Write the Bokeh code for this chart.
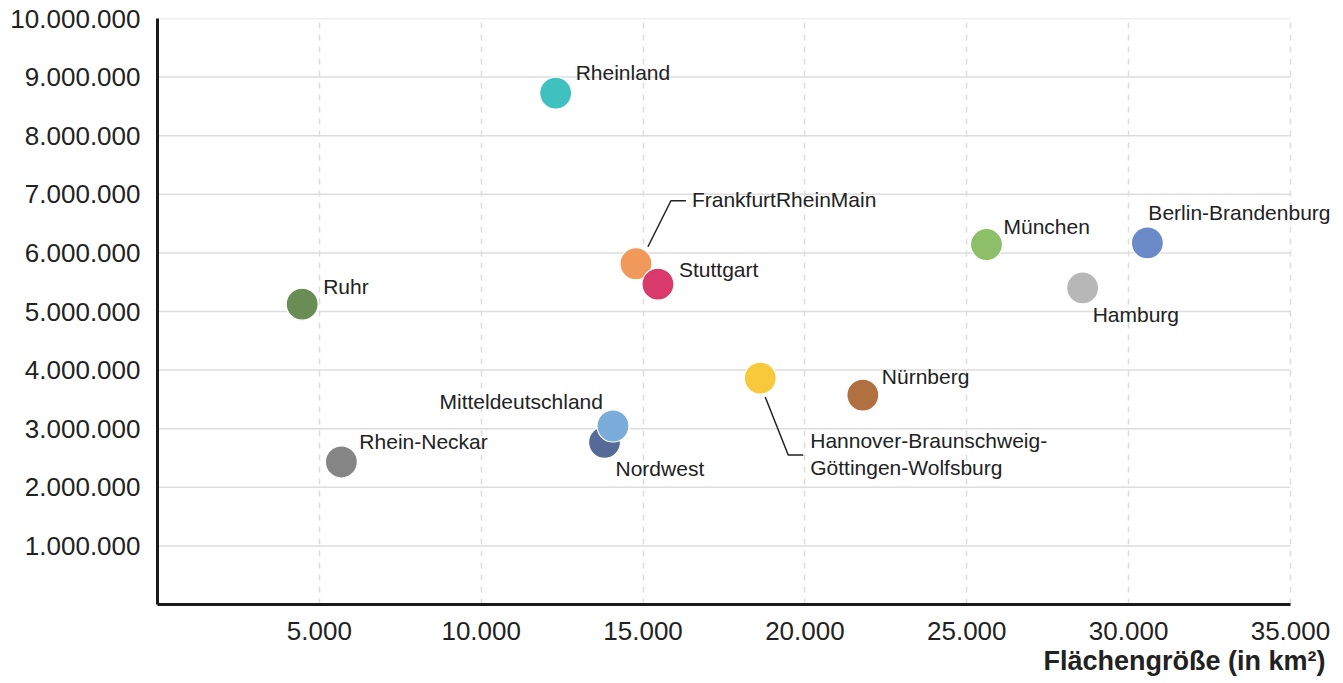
from bokeh.plotting import figure
from bokeh.models import ColumnDataSource, FixedTicker, Title
from bokeh.embed import file_html
from bokeh.resources import INLINE
from bokeh.core.properties import value

# ---- data ----
regions = ["Rheinland", "FrankfurtRheinMain", "Stuttgart", "Ruhr", "München",
           "Berlin-Brandenburg", "Hamburg", "Hannover-Braunschweig-Göttingen-Wolfsburg",
           "Nürnberg", "Nordwest", "Mitteldeutschland", "Rhein-Neckar"]
area_km2 = [12300, 14780, 15460, 4470, 25610, 30580, 28580, 18620, 21790, 13810, 14070, 5680]
population = [8727000, 5815000, 5466000, 5125000, 6143000, 6170000, 5403000, 3864000,
              3574000, 2768000, 3046000, 2432000]
colors = ["#3fc2bf", "#f0995a", "#d93a6b", "#6a8c55", "#8cbf68", "#6a8bc8", "#b7b7b7",
          "#f8c93a", "#b0703f", "#566a98", "#7badda", "#858585"]
display_labels = ["Rheinland", "FrankfurtRheinMain", "Stuttgart", "Ruhr", "München",
                  "Berlin-Brandenburg", "Hamburg", "Hannover-Braunschweig-\nGöttingen-Wolfsburg",
                  "Nürnberg", "Nordwest", "Mitteldeutschland", "Rhein-Neckar"]
x_ticks = [5000, 10000, 15000, 20000, 25000, 30000, 35000]
y_ticks = [1000000, 2000000, 3000000, 4000000, 5000000, 6000000, 7000000, 8000000, 9000000, 10000000]
x_title = "Flächengröße (in km²)"

# ---- layout / style ----
FONT = "Liberation Sans"
X_AXIS_END, Y_MAX = 35000, 10000000
X_VIEW = 36330           # frame extends a little past the axis end so labels are not clipped
FRAME_W, FRAME_H = 1176, 586
label_dx = [20, 56, 21, 21, 17, 1, 10, 50, 19, 11, -10, 18]
label_dy = [-21, -64, -15, -18, -18, -30, 27, 76, -19, 26, -25, -20]
label_right = [False, False, False, False, False, False, False, False, False, False, True, False]
leader_px = {
    "FrankfurtRheinMain": [(12, -17), (35, -63), (50, -63)],
    "Hannover-Braunschweig-Göttingen-Wolfsburg": [(5, 19), (28, 77), (43, 77)],
}

def fmt(v):
    return f"{v:,}".replace(",", ".")

p = figure(frame_width=FRAME_W, frame_height=FRAME_H,
           x_range=(0, X_VIEW), y_range=(0, Y_MAX),
           output_backend="svg", toolbar_location=None,
           min_border_left=157, min_border_right=0,
           min_border_top=18, min_border_bottom=0)
p.outline_line_color = None
p.background_fill_color = "white"
p.border_fill_color = "white"

# grids: vertical dashed via Grid, horizontal solid drawn up to the axis end
p.ygrid.grid_line_color = None
p.xgrid.ticker = FixedTicker(ticks=x_ticks)
p.xgrid.grid_line_color = "#dddddd"
p.xgrid.grid_line_width = 1.5
p.xgrid.grid_line_dash = "6 6"
p.segment(x0=[0] * len(y_ticks), y0=y_ticks, x1=[X_AXIS_END] * len(y_ticks), y1=y_ticks,
          line_color="#dddddd", line_width=1.5)

# axes
for ax in (p.xaxis[0], p.yaxis[0]):
    ax.axis_line_color = "#1a1a1a"
    ax.axis_line_width = 3
    ax.major_tick_line_color = None
    ax.minor_tick_line_color = None
    ax.major_label_text_font = FONT
    ax.major_label_text_font_size = "26px"
    ax.major_label_text_color = "#222222"
p.yaxis.major_label_standoff = 11
p.xaxis.major_label_standoff = 11

p.xaxis.bounds = (0, X_AXIS_END)
p.xaxis.ticker = FixedTicker(ticks=x_ticks)
p.yaxis.ticker = FixedTicker(ticks=y_ticks)
p.xaxis.major_label_overrides = {t: fmt(t) for t in x_ticks}
p.yaxis.major_label_overrides = {t: fmt(t) for t in y_ticks}

# leader lines (pixel offsets converted to data units)
sx = X_VIEW / FRAME_W
sy = Y_MAX / FRAME_H
for name, pts in leader_px.items():
    i = regions.index(name)
    xs = [area_km2[i] + dx * sx for dx, dy in pts]
    ys = [population[i] - dy * sy for dx, dy in pts]
    p.line(xs, ys, line_color="#222222", line_width=1.5)

src = ColumnDataSource(dict(x=area_km2, y=population, c=colors, name=regions))
p.scatter("x", "y", source=src, size=32, fill_color="c", line_color="white",
          line_width=1.2, fill_alpha=1)

left_idx = [i for i, r in enumerate(label_right) if not r]
right_idx = [i for i, r in enumerate(label_right) if r]

def sub(idx):
    return ColumnDataSource(dict(x=[area_km2[i] for i in idx], y=[population[i] for i in idx],
                                 lab=[display_labels[i] for i in idx],
                                 dx=[label_dx[i] for i in idx], dy=[label_dy[i] for i in idx]))

p.text("x", "y", text="lab", source=sub(left_idx), x_offset="dx", y_offset="dy",
       text_font=value(FONT), text_font_size="21px", text_color="#222222",
       text_align="left", text_baseline="middle", text_line_height=1.15)
p.text("x", "y", text="lab", source=sub(right_idx), x_offset="dx", y_offset="dy",
       text_font=value(FONT), text_font_size="21px", text_color="#222222",
       text_align="right", text_baseline="middle", text_line_height=1.15)

p.add_layout(Title(text=x_title, align="right", offset=8, standoff=2,
                   text_font=FONT, text_font_size="27px", text_font_style="bold",
                   text_color="#222222"), "below")

open("out.html", "w").write(file_html(p, INLINE))
